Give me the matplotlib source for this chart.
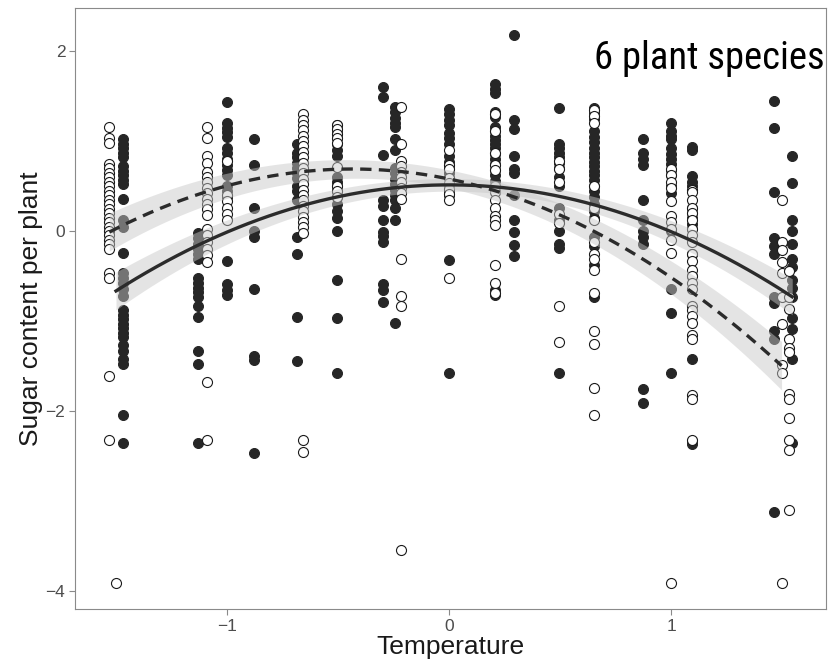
import numpy as np
import matplotlib
matplotlib.use("Agg")
import matplotlib.pyplot as plt
from matplotlib import font_manager
from matplotlib.font_manager import FontProperties

# ---- sugar content per plant, grouped by temperature column ----
# dark (filled) plants
dark_m147 = [1.02, 0.97, 0.92, 0.87, 0.82, 0.72, 0.67, 0.62, 0.57, 0.52, 0.36, 0.12, 0.04, -0.25,
             -0.47, -0.52, -0.58, -0.65, -0.72, -0.88, -0.93, -0.98, -1.03, -1.08, -1.13, -1.18,
             -1.27, -1.33, -1.42, -1.48, -2.05, -2.36]
dark_m113 = [-0.02, -0.08, -0.14, -0.2, -0.26, -0.31, -0.52, -0.58, -0.63, -0.68, -0.73, -0.83,
             -0.96, -1.34, -1.48, -2.36]
dark_m100 = [1.44, 1.2, 1.15, 1.1, 1.05, 0.92, 0.87, 0.8, 0.73, 0.68, 0.62, 0.5, 0.44, 0.38,
             -0.33, -0.59, -0.66, -0.71]
dark_m088 = [1.02, 0.73, 0.26, 0.0, -0.07, -0.64, -1.39, -1.44, -2.47]
dark_m068 = [0.97, 0.87, 0.82, 0.76, 0.7, 0.64, 0.59, 0.5, 0.44, 0.35, -0.07, -0.26, -0.96, -1.45]
dark_m050 = [1.18, 1.14, 1.09, 1.04, 0.97, 0.9, 0.83, 0.6, 0.55, 0.5, 0.44, 0.38, 0.3, 0.22,
             0.14, 0.0, -0.54, -0.97, -1.58]
dark_m030 = [1.6, 1.49, 0.85, 0.35, 0.28, 0.12, -0.01, -0.06, -0.12, -0.59, -0.66, -0.79]
dark_m024 = [1.38, 1.32, 1.26, 1.2, 1.16, 1.02, 0.9, 0.7, 0.64, 0.58, 0.52, 0.46, 0.4, 0.35,
             0.26, 0.12, -1.02]
dark_p000 = [1.36, 1.3, 1.24, 1.18, 1.09, 1.03, 0.97, 0.83, 0.77, 0.71, 0.65, 0.59, 0.5, 0.44,
             0.4, -0.32, -1.58]
dark_p021 = [1.63, 1.58, 1.54, 1.32, 1.27, 1.16, 1.11, 1.06, 1.01, 0.97, 0.92, 0.86, 0.8, 0.74,
             0.68, 0.62, 0.56, 0.5, 0.45, -0.66, -0.71]
dark_p029 = [2.18, 1.23, 1.13, 0.83, 0.69, 0.64, 0.4, 0.12, -0.01, -0.16, -0.28]
dark_p050 = [1.37, 0.97, 0.92, 0.87, 0.82, 0.76, 0.7, 0.6, 0.5, 0.26, 0.12, 0.0, -0.14, -0.19, -1.58]
dark_p065 = [1.37, 1.31, 1.25, 1.11, 1.05, 0.99, 0.92, 0.87, 0.82, 0.77, 0.72, 0.67, 0.62, 0.57,
             0.5, 0.44, 0.38, 0.3, 0.22, 0.15, -0.07, -0.17, -0.38, -0.73]
dark_p088 = [1.02, 0.87, 0.8, 0.73, 0.35, 0.12, 0.0, -0.07, -0.14, -1.76, -1.91]
dark_p100 = [1.2, 1.11, 1.06, 1.02, 0.92, 0.86, 0.8, 0.74, 0.68, 0.62, 0.5, 0.42, 0.0, -0.64,
             -0.91, -1.58]
dark_p109 = [0.93, 0.9, 0.61, 0.55, 0.5, 0.26, 0.2, 0.14, 0.08, 0.02, -0.26, -0.5, -1.42, -2.34, -2.37]
dark_p146 = [1.45, 1.15, 0.43, -0.08, -0.17, -0.26, -0.73, -0.8, -1.11, -1.2, -3.13]
dark_p155 = [0.83, 0.53, 0.12, 0.0, -0.14, -0.31, -0.4, -0.54, -0.63, -0.73, -0.97, -1.09,
             -1.42, -2.36]

# light (open) plants
light_m153 = [1.16, 1.03, 0.98, 0.75, 0.7, 0.65, 0.6, 0.55, 0.5, 0.45, 0.4, 0.35, 0.3, 0.25, 0.2,
              0.15, 0.1, 0.05, 0.0, -0.05, -0.1, -0.15, -0.2, -0.47, -0.52, -1.61, -2.33]
light_m150 = [-3.91]
light_m109 = [1.16, 1.04, 0.83, 0.76, 0.66, 0.6, 0.54, 0.48, 0.42, 0.36, 0.3, 0.24, 0.18, 0.02,
              -0.05, -0.12, -0.2, -0.27, -0.35, -1.68, -2.33]
light_m100 = [0.78, 0.4, 0.33, 0.26, 0.19, 0.12]
light_m066 = [1.3, 1.24, 1.18, 1.12, 1.06, 1.0, 0.94, 0.88, 0.82, 0.76, 0.7, 0.64, 0.58, 0.52,
              0.46, 0.4, 0.34, 0.28, 0.22, 0.16, 0.1, 0.04, -0.02, -2.33, -2.46]
light_m050 = [1.18, 1.13, 1.08, 1.03, 0.98, 0.71, 0.5, 0.44, 0.38]
light_m022 = [1.38, 0.97, 0.78, 0.72, 0.66, 0.6, 0.54, 0.48, 0.42, 0.36, -0.31, -0.72, -0.83, -3.55]
light_p000 = [0.9, 0.73, 0.69, 0.59, 0.53, 0.47, 0.41, 0.35, -0.52]
light_p021 = [1.3, 1.11, 0.87, 0.73, 0.68, 0.5, 0.43, 0.35, 0.26, 0.17, 0.12, 0.07, -0.38, -0.58, -0.69]
light_p050 = [0.78, 0.69, 0.54, 0.19, 0.09, -0.83, -1.24]
light_p065 = [1.35, 1.28, 1.2, 0.5, 0.26, 0.12, -0.12, -0.26, -0.31, -0.43, -0.69, -1.11, -1.26,
              -1.75, -2.05]
light_p100 = [0.69, 0.62, 0.55, 0.48, 0.33, 0.17, 0.1, 0.02, -0.1, -0.24, -3.91]
light_p109 = [0.46, 0.43, 0.35, 0.26, 0.2, 0.12, 0.02, -0.05, -0.12, -0.26, -0.33, -0.43, -0.5,
              -0.58, -0.64, -0.83, -0.88, -0.95, -1.02, -1.16, -1.2, -1.82, -1.87, -2.32]
light_p150 = [0.35, -0.12, -0.21, -0.35, -0.47, -0.73, -1.04, -1.49, -1.58, -3.91]
light_p153 = [-0.45, -0.73, -0.87, -1.2, -1.3, -1.35, -1.81, -1.87, -2.08, -2.33, -2.44, -3.1]

dark_columns = [(-1.47, dark_m147), (-1.13, dark_m113), (-1.0, dark_m100), (-0.877, dark_m088),
                (-0.683, dark_m068), (-0.504, dark_m050), (-0.296, dark_m030), (-0.241, dark_m024),
                (0.0, dark_p000), (0.208, dark_p021), (0.292, dark_p029), (0.497, dark_p050),
                (0.652, dark_p065), (0.875, dark_p088), (1.0, dark_p100), (1.094, dark_p109),
                (1.462, dark_p146), (1.546, dark_p155)]
light_columns = [(-1.53, light_m153), (-1.50, light_m150), (-1.09, light_m109), (-1.0, light_m100),
                 (-0.657, light_m066), (-0.504, light_m050), (-0.217, light_m022), (0.0, light_p000),
                 (0.208, light_p021), (0.497, light_p050), (0.652, light_p065), (1.0, light_p100),
                 (1.094, light_p109), (1.498, light_p150), (1.53, light_p153)]

# ---- quadratic trends (sampled along each curve) and their confidence half-widths ----
solid_x = [-1.50, -1.13, -0.683, 0.0, 0.652, 1.0, 1.546]
solid_y = [-0.68, -0.14, 0.27, 0.51, 0.28, 0.0, -0.73]
solid_hw_x = [-1.50, 0.0, 1.546]
solid_hw = [0.21, 0.07, 0.20]

dashed_x = [-1.53, -1.0, -0.5, 0.0, 0.652, 1.0, 1.498]
dashed_y = [-0.01, 0.50, 0.68, 0.59, 0.01, -0.54, -1.49]
dashed_hw_x = [-1.53, -0.3, 1.498]
dashed_hw = [0.21, 0.10, 0.27]

x_ticks = [-1, 0, 1]
y_ticks = [-4, -2, 0, 2]


def column_points(columns):
    xs, ys = [], []
    for t, vals in columns:
        xs.extend([t] * len(vals))
        ys.extend(vals)
    return np.array(xs), np.array(ys)


def smooth(xs, ys, hx, hw):
    coef = np.polyfit(xs, ys, 2)
    hcoef = np.polyfit(hx, hw, 2)
    grid = np.linspace(min(xs), max(xs), 200)
    return grid, np.polyval(coef, grid), np.polyval(hcoef, grid)


def narrow_font():
    """Pick a narrow/condensed sans face if one is installed."""
    prefs = ["Liberation Sans Narrow", "Arial Narrow", "Roboto Condensed", "Open Sans Condensed",
             "Noto Sans Condensed", "DejaVu Sans Condensed"]
    faces = font_manager.fontManager.ttflist
    regular = [f for f in faces if f.style == "normal" and f.weight in (400, "normal", "regular", "book")]
    for p in prefs:
        for f in regular:
            if f.name == p:
                return FontProperties(fname=f.fname)
    for f in regular:
        if f.stretch in ("condensed", "semi-condensed") and "Mono" not in f.name and "Serif" not in f.name:
            return FontProperties(fname=f.fname)
    for f in regular:
        if ("Narrow" in f.name or "Condensed" in f.name) and "Mono" not in f.name:
            return FontProperties(fname=f.fname)
    for f in faces:
        if "Condensed" in f.fname and "Mono" not in f.fname and "Bold" not in f.fname \
                and "Oblique" not in f.fname and "Italic" not in f.fname:
            return FontProperties(fname=f.fname)
    return FontProperties(family="Liberation Sans")


plt.rcParams["font.family"] = ["Liberation Sans", "DejaVu Sans"]

W, H = 834, 666
fig = plt.figure(figsize=(W / 100, H / 100), dpi=100)
left, right, top, bottom = 75, 826, 8, 609
ax = fig.add_axes([left / W, 1 - bottom / H, (right - left) / W, (bottom - top) / H])

dx, dy = column_points(dark_columns)
lx, ly = column_points(light_columns)
ax.scatter(dx, dy, s=52, facecolor="#262626", edgecolor="#262626", linewidths=0.7, zorder=2)
ax.scatter(lx, ly, s=52, facecolor="white", edgecolor="#1a1a1a", linewidths=0.8, zorder=2)

trends = [(solid_x, solid_y, solid_hw_x, solid_hw, "-"),
          (dashed_x, dashed_y, dashed_hw_x, dashed_hw, (0, (3.4, 2.2)))]
for xs, ys, hx, hw, ls in trends:
    g, m, h = smooth(xs, ys, hx, hw)
    ax.fill_between(g, m - h, m + h, color="#c8c8c8", alpha=0.48, linewidth=0, zorder=3)
for xs, ys, hx, hw, ls in trends:
    g, m, h = smooth(xs, ys, hx, hw)
    ax.plot(g, m, color="#2b2b2b", linewidth=2.4, linestyle=ls, zorder=4)

# 0 at 449 px, 222 px per unit horizontally; 0 at 231 px, 89.9 px per unit vertically
ax.set_xlim((left - 449) / 222, (right - 449) / 222)
ax.set_ylim((231 - bottom) / 89.9, (231 - top) / 89.9)
ax.set_xticks(x_ticks)
ax.set_yticks(y_ticks)
ax.set_xticklabels([str(t).replace("-", "\u2212") for t in x_ticks])
ax.set_yticklabels([str(t).replace("-", "\u2212") for t in y_ticks])

for sp in ax.spines.values():
    sp.set_color("#8a8a8a")
    sp.set_linewidth(0.8)
ax.tick_params(axis="both", colors="#8a8a8a", length=4, width=0.8, labelsize=12.5,
               labelcolor="#4d4d4d", pad=3)

ax.set_xlabel("Temperature", fontsize=19, color="#1a1a1a", labelpad=1)
ax.set_ylabel("Sugar content per plant", fontsize=19, color="#1a1a1a", labelpad=2)

fp = narrow_font()
fp.set_size(30)
label = ax.text(0.998, 1 - 32 / (bottom - top), "6 plant species", transform=ax.transAxes,
                ha="right", va="top", fontproperties=fp, color="black", zorder=5)
# keep the annotation to its printed width
fig.canvas.draw()
wpx = label.get_window_extent().width
if wpx > 0:
    fp.set_size(30 * 230 / wpx)
    label.set_fontproperties(fp)

fig.savefig("out.png", dpi=100)
